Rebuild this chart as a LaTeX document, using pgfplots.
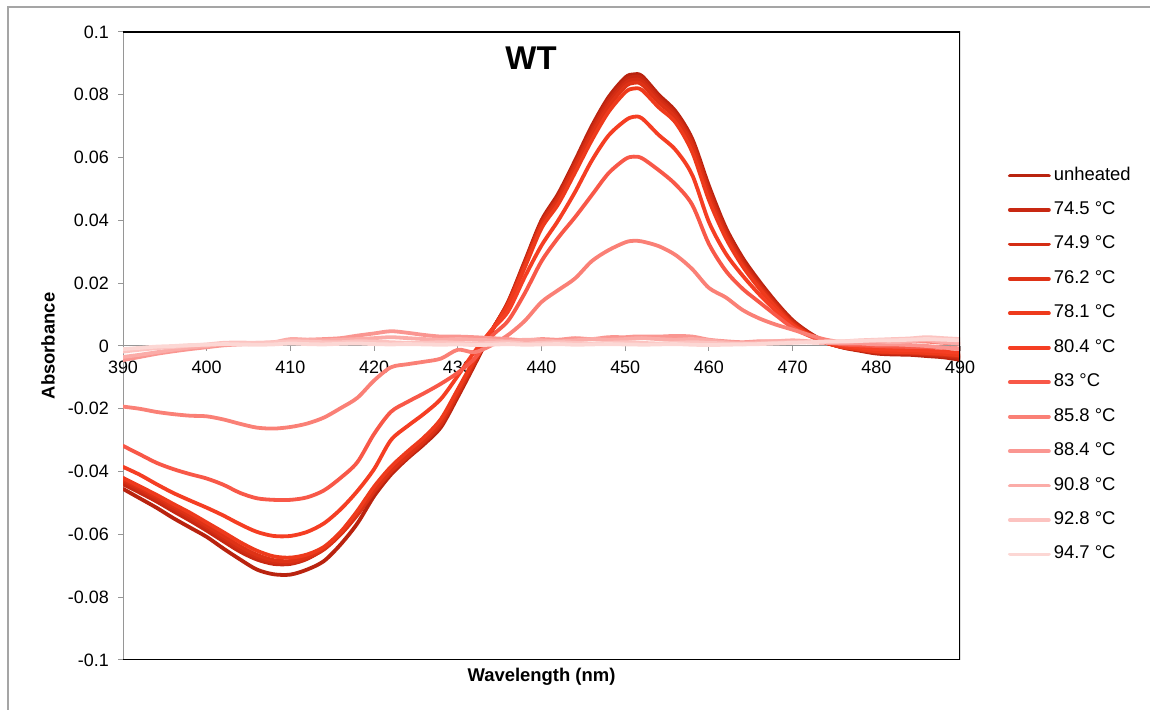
\documentclass[border=0pt]{standalone}
\usepackage{fontspec}
\setmainfont{Liberation Sans}
\usepackage{pgfplots}
\usepackage{pgfplotstable}
\pgfplotsset{compat=1.18}

% series colours, darkest (unheated) to lightest (94.7 C)
\definecolor{cA}{RGB}{185,35,15}
\definecolor{cB}{RGB}{200,40,18}
\definecolor{cC}{RGB}{212,45,20}
\definecolor{cD}{RGB}{222,50,22}
\definecolor{cE}{RGB}{238,58,28}
\definecolor{cF}{RGB}{245,62,35}
\definecolor{cG}{RGB}{248,88,72}
\definecolor{cH}{RGB}{250,128,118}
\definecolor{cI}{RGB}{250,150,145}
\definecolor{cJ}{RGB}{251,172,168}
\definecolor{cK}{RGB}{252,195,192}
\definecolor{cL}{RGB}{252,215,212}
\definecolor{axisgray}{RGB}{150,150,150}
\definecolor{framegray}{RGB}{165,165,165}

% difference spectra: a = unheated, b..l = 74.5 ... 94.7 C
\pgfplotstableread{
x a b c d e f g h i j k l
390 -0.0455 -0.0440 -0.0430 -0.0425 -0.0420 -0.0385 -0.0318 -0.0193 -0.0045 -0.0035 -0.0018 -0.0010
392 -0.0485 -0.0467 -0.0458 -0.0452 -0.0447 -0.0410 -0.0345 -0.0200 -0.0035 -0.0028 -0.0012 -0.0006
394 -0.0515 -0.0495 -0.0486 -0.0480 -0.0474 -0.0440 -0.0372 -0.0210 -0.0025 -0.0020 -0.0007 -0.0002
396 -0.0548 -0.0526 -0.0517 -0.0510 -0.0503 -0.0468 -0.0392 -0.0217 -0.0017 -0.0012 -0.0003 0.0000
398 -0.0578 -0.0556 -0.0547 -0.0540 -0.0531 -0.0492 -0.0408 -0.0222 -0.0010 -0.0005 0.0001 0.0003
400 -0.0608 -0.0588 -0.0578 -0.0572 -0.0562 -0.0515 -0.0422 -0.0224 -0.0004 0.0000 0.0005 0.0004
402 -0.0645 -0.0622 -0.0612 -0.0605 -0.0593 -0.0540 -0.0442 -0.0234 0.0002 0.0006 0.0010 0.0006
404 -0.0680 -0.0655 -0.0646 -0.0638 -0.0625 -0.0568 -0.0468 -0.0248 0.0005 0.0008 0.0011 0.0005
406 -0.0712 -0.0680 -0.0672 -0.0665 -0.0652 -0.0592 -0.0485 -0.0260 0.0007 0.0010 0.0010 0.0004
408 -0.0727 -0.0694 -0.0688 -0.0682 -0.0670 -0.0605 -0.0490 -0.0263 0.0010 0.0012 0.0012 0.0005
410 -0.0728 -0.0694 -0.0690 -0.0685 -0.0674 -0.0605 -0.0490 -0.0258 0.0018 0.0022 0.0015 0.0008
412 -0.0712 -0.0678 -0.0676 -0.0672 -0.0664 -0.0592 -0.0482 -0.0247 0.0020 0.0020 0.0014 0.0006
414 -0.0685 -0.0645 -0.0648 -0.0645 -0.0640 -0.0565 -0.0460 -0.0228 0.0022 0.0018 0.0012 0.0005
416 -0.0632 -0.0595 -0.0600 -0.0598 -0.0592 -0.0520 -0.0420 -0.0198 0.0025 0.0020 0.0012 0.0007
418 -0.0565 -0.0535 -0.0538 -0.0535 -0.0525 -0.0462 -0.0370 -0.0165 0.0033 0.0022 0.0015 0.0008
420 -0.0478 -0.0462 -0.0465 -0.0460 -0.0448 -0.0392 -0.0280 -0.0110 0.0040 0.0025 0.0014 0.0006
422 -0.0410 -0.0400 -0.0402 -0.0398 -0.0385 -0.0300 -0.0210 -0.0068 0.0047 0.0028 0.0012 0.0005
424 -0.0358 -0.0352 -0.0353 -0.0348 -0.0336 -0.0255 -0.0178 -0.0058 0.0042 0.0025 0.0010 0.0006
426 -0.0312 -0.0305 -0.0305 -0.0300 -0.0290 -0.0215 -0.0150 -0.0050 0.0035 0.0022 0.0010 0.0005
428 -0.0258 -0.0250 -0.0248 -0.0242 -0.0232 -0.0168 -0.0120 -0.0040 0.0030 0.0020 0.0012 0.0004
430 -0.0162 -0.0155 -0.0152 -0.0147 -0.0138 -0.0095 -0.0085 -0.0012 0.0030 0.0022 0.0010 0.0005
432 -0.0060 -0.0055 -0.0052 -0.0048 -0.0042 -0.0018 -0.0040 -0.0020 0.0028 0.0020 0.0008 0.0003
434 0.0045 0.0045 0.0046 0.0047 0.0047 0.0050 0.0030 0.0002 0.0025 0.0018 0.0010 0.0004
436 0.0140 0.0138 0.0137 0.0135 0.0130 0.0110 0.0080 0.0035 0.0022 0.0015 0.0012 0.0006
438 0.0270 0.0265 0.0262 0.0258 0.0250 0.0220 0.0168 0.0080 0.0018 0.0020 0.0008 0.0004
440 0.0400 0.0395 0.0390 0.0385 0.0375 0.0320 0.0270 0.0140 0.0022 0.0018 0.0010 0.0005
442 0.0485 0.0478 0.0472 0.0465 0.0452 0.0400 0.0345 0.0178 0.0020 0.0015 0.0012 0.0006
444 0.0590 0.0582 0.0575 0.0567 0.0552 0.0490 0.0410 0.0215 0.0025 0.0018 0.0010 0.0004
446 0.0700 0.0690 0.0682 0.0672 0.0655 0.0590 0.0480 0.0270 0.0022 0.0022 0.0008 0.0005
448 0.0792 0.0783 0.0773 0.0762 0.0745 0.0670 0.0550 0.0305 0.0028 0.0020 0.0010 0.0006
450 0.0855 0.0845 0.0836 0.0826 0.0808 0.0718 0.0595 0.0330 0.0028 0.0022 0.0012 0.0005
451 0.0865 0.0857 0.0848 0.0838 0.0820 0.0730 0.0603 0.0335 0.0030 0.0024 0.0012 0.0005
452 0.0860 0.0852 0.0843 0.0833 0.0815 0.0725 0.0598 0.0333 0.0030 0.0025 0.0010 0.0004
454 0.0800 0.0792 0.0785 0.0776 0.0760 0.0672 0.0560 0.0318 0.0030 0.0022 0.0008 0.0005
456 0.0748 0.0740 0.0734 0.0726 0.0712 0.0625 0.0515 0.0290 0.0032 0.0020 0.0010 0.0006
458 0.0660 0.0652 0.0645 0.0636 0.0618 0.0545 0.0450 0.0245 0.0030 0.0022 0.0012 0.0004
460 0.0510 0.0500 0.0490 0.0480 0.0465 0.0395 0.0325 0.0185 0.0020 0.0018 0.0010 0.0003
462 0.0378 0.0370 0.0362 0.0355 0.0345 0.0295 0.0240 0.0155 0.0015 0.0012 0.0008 0.0004
464 0.0282 0.0275 0.0268 0.0262 0.0255 0.0225 0.0183 0.0115 0.0012 0.0010 0.0006 0.0005
466 0.0207 0.0200 0.0195 0.0190 0.0184 0.0165 0.0140 0.0088 0.0015 0.0012 0.0008 0.0006
468 0.0140 0.0135 0.0131 0.0127 0.0122 0.0112 0.0098 0.0068 0.0015 0.0015 0.0010 0.0008
470 0.0082 0.0078 0.0075 0.0072 0.0068 0.0066 0.0058 0.0052 0.0015 0.0018 0.0012 0.0010
472 0.0042 0.0040 0.0038 0.0036 0.0034 0.0034 0.0032 0.0035 0.0012 0.0015 0.0012 0.0012
474 0.0012 0.0012 0.0011 0.0010 0.0010 0.0012 0.0014 0.0020 0.0010 0.0012 0.0014 0.0014
476 -0.0005 -0.0004 -0.0004 -0.0003 -0.0003 0.0002 0.0005 0.0012 0.0008 0.0012 0.0015 0.0015
478 -0.0015 -0.0013 -0.0012 -0.0011 -0.0010 -0.0005 0.0002 0.0010 0.0008 0.0015 0.0018 0.0016
480 -0.0024 -0.0021 -0.0020 -0.0018 -0.0017 -0.0010 0.0000 0.0012 0.0005 0.0015 0.0020 0.0018
482 -0.0027 -0.0024 -0.0022 -0.0020 -0.0019 -0.0012 -0.0002 0.0014 0.0005 0.0012 0.0022 0.0018
484 -0.0028 -0.0025 -0.0023 -0.0021 -0.0020 -0.0013 -0.0003 0.0016 0.0003 0.0015 0.0024 0.0020
486 -0.0032 -0.0028 -0.0026 -0.0024 -0.0022 -0.0015 -0.0004 0.0014 0.0000 0.0018 0.0028 0.0022
488 -0.0036 -0.0032 -0.0029 -0.0027 -0.0025 -0.0018 -0.0006 0.0010 -0.0005 0.0012 0.0025 0.0020
490 -0.0044 -0.0039 -0.0035 -0.0032 -0.0030 -0.0022 -0.0008 0.0008 -0.0010 0.0008 0.0022 0.0018
}\spectra

\pgfplotsset{
  plotframe/.style={
    at={(123bp,50bp)}, anchor=south west, scale only axis,
    width=837bp, height=628bp,
    xmin=390, xmax=490, ymin=-0.1, ymax=0.1,
  },
  spec/.style={#1, line width=3.8bp, line join=round, line cap=round, smooth, tension=0.5, no markers},
}

\begin{document}
\begin{tikzpicture}[x=1bp,y=1bp]
\useasboundingbox (0,0) rectangle (1150,710);
% outer chart border
\draw[framegray, line width=1.5bp] (8,0) -- (8,703) -- (1150,703);

% zero line, left axis line, ticks and labels
\begin{axis}[
  plotframe, clip=false,
  axis x line=middle, axis y line=left,
  axis line style={draw=axisgray, line width=1bp, -},
  hide obscured x ticks=false, hide obscured y ticks=false,
  tick align=outside, major tick length=5bp,
  tick style={draw=axisgray, line width=1bp},
  xtick={390,400,410,420,430,440,450,460,470,480,490},
  xticklabels={390,400,410,420,430,440,450,460,470,480,490},
  ytick={-0.1,-0.08,-0.06,-0.04,-0.02,0,0.02,0.04,0.06,0.08,0.1},
  yticklabels={-0.1,-0.08,-0.06,-0.04,-0.02,0,0.02,0.04,0.06,0.08,0.1},
  ticklabel style={font=\fontsize{18}{20}\selectfont},
  xticklabel style={anchor=north, inner sep=2bp, yshift=-8bp},
  yticklabel style={anchor=east, inner sep=2bp, xshift=-7bp},
]
\node[rotate=90, font=\fontsize{18.5}{20}\selectfont\bfseries]
  at (axis description cs:-0.0896,0.5) {Absorbance};
\node[font=\fontsize{18.5}{20}\selectfont\bfseries]
  at (axis description cs:0.5,-0.027) {Wavelength (nm)};
\end{axis}

% spectra, plot-area frame, title and legend
\begin{axis}[
  plotframe,
  axis line style={draw=none}, ticks=none,
  legend cell align=left,
  legend image code/.code={\draw[#1] (0bp,0bp) -- (39bp,0bp);},
  legend style={
    at={(axis description cs:1.0573,0.785)}, anchor=north west,
    draw=none, fill=none, inner sep=0pt, outer sep=0pt,
    font=\fontsize{18.5}{20}\selectfont,
    row sep=17.45bp, column sep=0bp,
    nodes={inner xsep=3bp, inner ysep=0bp, text height=13bp, text depth=4bp},
  },
]
\addplot[spec=cA] table[x=x, y=a] {\spectra}; \addlegendentry{unheated}
\addplot[spec=cB] table[x=x, y=b] {\spectra}; \addlegendentry{74.5 °C}
\addplot[spec=cC] table[x=x, y=c] {\spectra}; \addlegendentry{74.9 °C}
\addplot[spec=cD] table[x=x, y=d] {\spectra}; \addlegendentry{76.2 °C}
\addplot[spec=cE] table[x=x, y=e] {\spectra}; \addlegendentry{78.1 °C}
\addplot[spec=cF] table[x=x, y=f] {\spectra}; \addlegendentry{80.4 °C}
\addplot[spec=cG] table[x=x, y=g] {\spectra}; \addlegendentry{83 °C}
\addplot[spec=cH] table[x=x, y=h] {\spectra}; \addlegendentry{85.8 °C}
\addplot[spec=cI] table[x=x, y=i] {\spectra}; \addlegendentry{88.4 °C}
\addplot[spec=cJ] table[x=x, y=j] {\spectra}; \addlegendentry{90.8 °C}
\addplot[spec=cK] table[x=x, y=k] {\spectra}; \addlegendentry{92.8 °C}
\addplot[spec=cL] table[x=x, y=l] {\spectra}; \addlegendentry{94.7 °C}
\draw[black, line width=1.3bp] (rel axis cs:0,0) -- (rel axis cs:1,0)
  -- (rel axis cs:1,1) -- (rel axis cs:0,1);
\node[font=\fontsize{33}{36}\selectfont\bfseries]
  at (axis description cs:0.4875,0.9586) {WT};
\end{axis}
\end{tikzpicture}
\end{document}
